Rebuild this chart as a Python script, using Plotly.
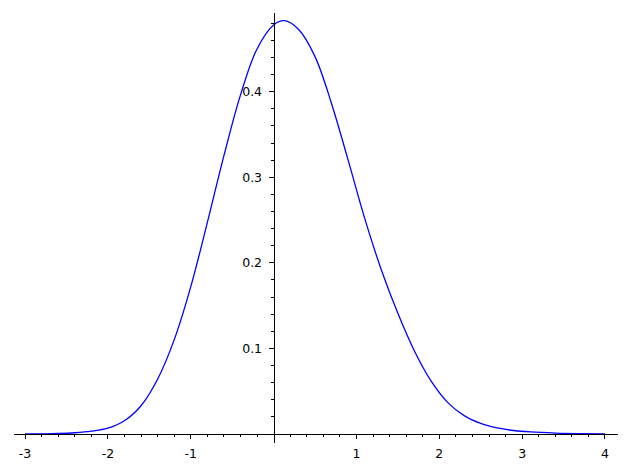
import plotly.graph_objects as go

# Curve values
x_vals = [-3.0, -2.8, -2.6, -2.4, -2.2, -2.0, -1.8, -1.6, -1.4, -1.2, -1.0, -0.8,
          -0.6, -0.4, -0.2, 0.0, 0.13, 0.3, 0.5, 0.7, 0.9, 1.1, 1.3, 1.5, 1.7, 1.9,
          2.1, 2.3, 2.5, 2.7, 2.9, 3.1, 3.4, 3.7, 4.0]
y_vals = [0.0000, 0.0002, 0.0006, 0.0015, 0.0033, 0.0068, 0.0155, 0.033, 0.064,
          0.110, 0.172, 0.247, 0.325, 0.396, 0.450, 0.478, 0.483, 0.473, 0.441,
          0.386, 0.320, 0.252, 0.192, 0.141, 0.097, 0.062, 0.037, 0.0215, 0.0125,
          0.0072, 0.0041, 0.0024, 0.0011, 0.0005, 0.0002]

x_ticks = [-3, -2, -1, 1, 2, 3, 4]
x_tick_labels = ["-3", "-2", "-1", "1", "2", "3", "4"]
y_ticks = [0.1, 0.2, 0.3, 0.4]
y_tick_labels = ["0.1", "0.2", "0.3", "0.4"]

x_minor = [round(-3 + 0.2 * k, 2) for k in range(36)]
x_minor = [v for v in x_minor if abs(v - round(v)) > 1e-9]
y_minor = [round(0.02 * k, 2) for k in range(1, 25)]
y_minor = [v for v in y_minor if abs(v * 10 - round(v * 10)) > 1e-9]

x_range = [-3.133, 4.157]
y_range = [-0.0105, 0.492]

fig = go.Figure()
fig.add_trace(go.Scatter(x=x_vals, y=y_vals, mode="lines",
                         line=dict(color="#0000ff", width=1.3, shape="spline", smoothing=1.0),
                         hoverinfo="skip", showlegend=False))

font = dict(family="DejaVu Sans", size=12.5, color="black")

fig.update_layout(
    width=630, height=468,
    margin=dict(l=14, r=12, t=13, b=25, autoexpand=False),
    paper_bgcolor="white", plot_bgcolor="white",
    font=font,
    showlegend=False,
    xaxis=dict(range=x_range, showline=True, linecolor="black", linewidth=1,
               anchor="free", position=(0 - y_range[0]) / (y_range[1] - y_range[0]),
               automargin=False,
               ticks="outside", ticklen=4, tickwidth=1, tickcolor="black",
               ticklabelstandoff=4,
               tickvals=x_ticks, ticktext=x_tick_labels, tickfont=font,
               showgrid=False, zeroline=False,
               minor=dict(tickvals=x_minor, ticks="outside", ticklen=2, tickwidth=1,
                          tickcolor="black", showgrid=False)),
    yaxis=dict(range=y_range, showline=True, linecolor="black", linewidth=1,
               anchor="free", position=(0 - x_range[0]) / (x_range[1] - x_range[0]),
               automargin=False,
               ticks="outside", ticklen=5, tickwidth=1, tickcolor="black",
               ticklabelstandoff=4,
               tickvals=y_ticks, ticktext=y_tick_labels, tickfont=font,
               showgrid=False, zeroline=False,
               minor=dict(tickvals=y_minor, ticks="outside", ticklen=3, tickwidth=1,
                          tickcolor="black", showgrid=False)),
)

fig.write_html("out.html", config={"displayModeBar": False},
               post_script="document.body.style.margin='0';document.body.style.overflow='hidden';")
